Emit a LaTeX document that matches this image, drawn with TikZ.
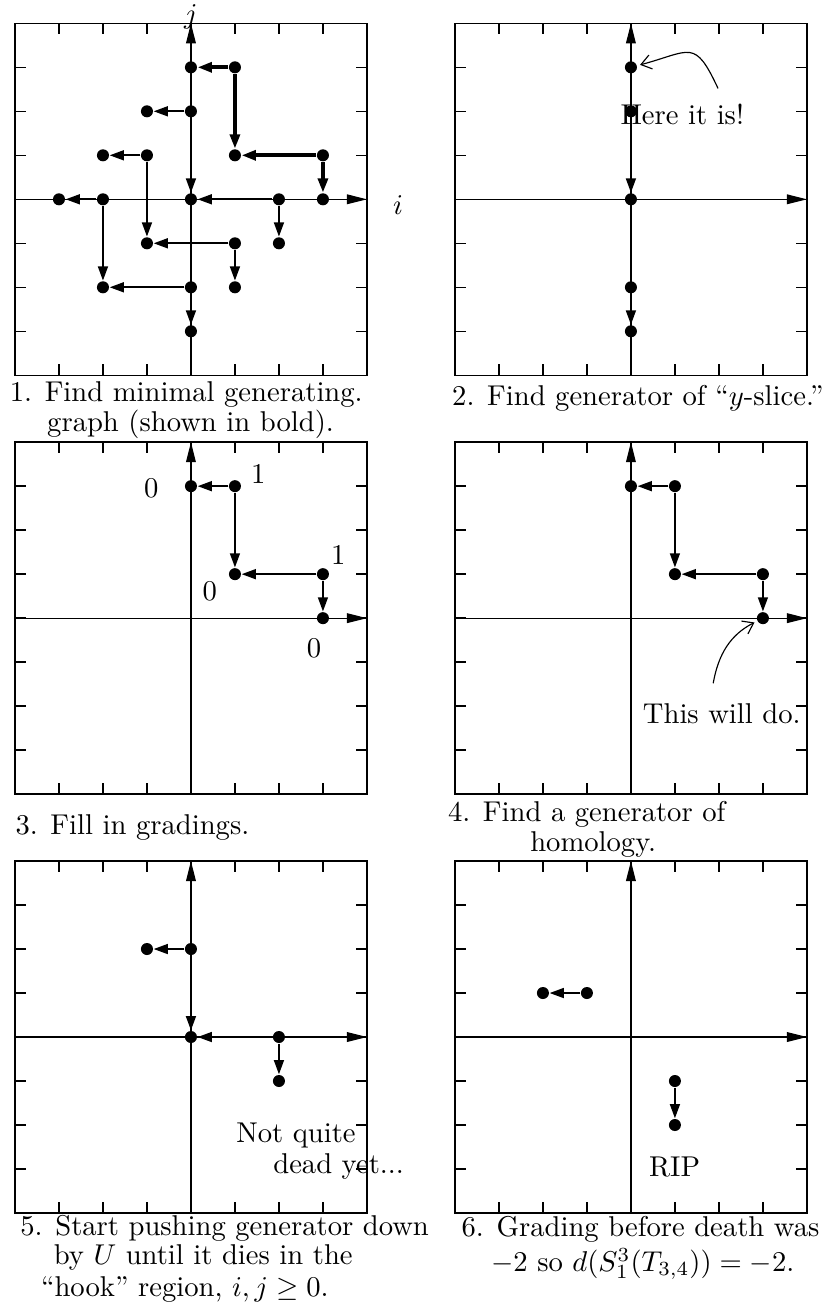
\documentclass[tikz,border=0pt]{standalone}
\usetikzlibrary{arrows.meta}
\tikzstyle{dot} = [
    circle,
    fill=black,
    inner sep=0pt,
    minimum size=4.2pt
]
\tikzstyle{frame} = [line width=0.5pt]
\tikzstyle{axis} = [line width=0.4pt, -{Triangle[length=7pt,width=3.4pt]}]
\tikzstyle{edge} = [line width=0.8pt, -{Triangle[length=5pt,width=3.4pt]}]
\tikzstyle{boldedge} = [edge, line width=1.5pt]
\tikzstyle{note} = [line width=0.4pt, -{Straight Barb[length=3.5pt,width=5pt]}, shorten >=1pt]
\tikzstyle{caption} = [anchor=base west, inner sep=0pt]
\tikzstyle{grade} = [inner sep=0pt]

\newcommand{\panelframe}{
    \draw[frame] (-4,-4) rectangle (4,4);
    \foreach \k in {-3,...,3} {
        \draw[frame] (\k,-4) -- (\k,-3.75);
        \draw[frame] (\k,4) -- (\k,3.75);
        \draw[frame] (-4,\k) -- (-3.75,\k);
        \draw[frame] (4,\k) -- (3.75,\k);
    }
    \draw[axis] (-4,0) -- (4,0);
    \draw[axis] (0,-4) -- (0,4);
}

\begin{document}
\begin{tikzpicture}[x=0.54cm, y=0.54cm]
\useasboundingbox (-4.34,-25.29) rectangle (14.477,4.53);

\begin{scope}
\panelframe
\node (jlabel) at (0,4.15) {$j$};
\node (ilabel) at (4.71,-0.13) {$i$};
\foreach \n/\p in {a1/{0,3}, a2/{1,3}, a3/{-1,2}, a4/{0,2}, a5/{-2,1},
    a6/{-1,1}, a7/{1,1}, a8/{3,1}, a9/{-3,0}, a10/{-2,0}, a11/{0,0},
    a12/{2,0}, a13/{3,0}, a14/{-1,-1}, a15/{1,-1}, a16/{2,-1},
    a17/{-2,-2}, a18/{0,-2}, a19/{1,-2}, a20/{0,-3}}
    \node[dot] (\n) at (\p) {};
\foreach \s/\t in {a2/a1, a2/a7, a8/a7, a8/a13}
    \draw[boldedge] (\s) -- (\t);
\foreach \s/\t in {a4/a3, a4/a11, a6/a5, a6/a14, a10/a9, a10/a17,
    a12/a11, a12/a16, a15/a14, a15/a19, a18/a17, a18/a20}
    \draw[edge] (\s) -- (\t);
\node[caption] (cap1a) at (-4.13,-4.60) {1. Find minimal generating.};
\node[caption] (cap1b) at (-3.28,-5.27) {graph (shown in bold).};
\end{scope}

\begin{scope}[shift={(10,0)}]
\panelframe
\foreach \n/\p in {b1/{0,3}, b2/{0,2}, b3/{0,0}, b4/{0,-2}, b5/{0,-3}}
    \node[dot] (\n) at (\p) {};
\foreach \s/\t in {b2/b3, b4/b5}
    \draw[edge] (\s) -- (\t);
\node[caption] (heretext) at (-0.25,1.71) {Here it is!};
\coordinate (herefoot) at (1.98,2.52);
\draw[note] (herefoot) to[out=115, in=15, looseness=1.7] (b1);
\node[caption] (cap2) at (-4.075,-4.68) {2. Find generator of ``$y$-slice.''};
\end{scope}

\begin{scope}[shift={(0,-9.52)}]
\panelframe
\foreach \n/\p in {c1/{0,3}, c2/{1,3}, c3/{1,1}, c4/{3,1}, c5/{3,0}}
    \node[dot] (\n) at (\p) {};
\foreach \s/\t in {c2/c1, c2/c3, c4/c3, c4/c5}
    \draw[edge] (\s) -- (\t);
\node[grade] (g1) at (-0.9,2.95) {0};
\node[grade] (g2) at (1.53,3.27) {1};
\node[grade] (g3) at (3.35,1.44) {1};
\node[grade] (g4) at (0.43,0.6) {0};
\node[grade] (g5) at (2.8,-0.68) {0};
\node[caption] (cap3) at (-4.0,-4.925) {3. Fill in gradings.};
\end{scope}

\begin{scope}[shift={(10,-9.52)}]
\panelframe
\foreach \n/\p in {d1/{0,3}, d2/{1,3}, d3/{1,1}, d4/{3,1}, d5/{3,0}}
    \node[dot] (\n) at (\p) {};
\foreach \s/\t in {d2/d1, d2/d3, d4/d3, d4/d5}
    \draw[edge] (\s) -- (\t);
\node[caption] (thistext) at (0.26,-2.40) {This will do.};
\coordinate (thisfoot) at (1.87,-1.48);
\draw[note] (thisfoot) to[out=80, in=207] (d5);
\node[caption] (cap4a) at (-4.17,-4.62) {4. Find a generator of};
\node[caption] (cap4b) at (-2.30,-5.30) {homology.};
\end{scope}

\begin{scope}[shift={(0,-19.04)}]
\panelframe
\foreach \n/\p in {e1/{-1,2}, e2/{0,2}, e3/{0,0}, e4/{2,0}, e5/{2,-1}}
    \node[dot] (\n) at (\p) {};
\foreach \s/\t in {e2/e1, e2/e3, e4/e3, e4/e5}
    \draw[edge] (\s) -- (\t);
\node[caption] (notquite) at (1.02,-2.39) {Not quite};
\node[caption] (deadyet) at (1.86,-3.11) {dead yet...};
\node[caption] (cap5a) at (-3.89,-4.50) {5. Start pushing generator down};
\node[caption] (cap5b) at (-3.13,-5.18) {by $U$ until it dies in the};
\node[caption] (cap5c) at (-3.42,-5.89) {``hook'' region, $i,j\geq 0$.};
\end{scope}

\begin{scope}[shift={(10,-19.04)}]
\panelframe
\foreach \n/\p in {f1/{-2,1}, f2/{-1,1}, f3/{1,-1}, f4/{1,-2}}
    \node[dot] (\n) at (\p) {};
\foreach \s/\t in {f2/f1, f3/f4}
    \draw[edge] (\s) -- (\t);
\node[caption] (riptext) at (0.40,-3.18) {RIP};
\node[caption] (cap6a) at (-3.86,-4.54) {6. Grading before death was};
\node[caption] (cap6b) at (-3.19,-5.33) {$-2$ so $d(S^3_1(T_{3,4}))=-2$.};
\end{scope}

\end{tikzpicture}
\end{document}
